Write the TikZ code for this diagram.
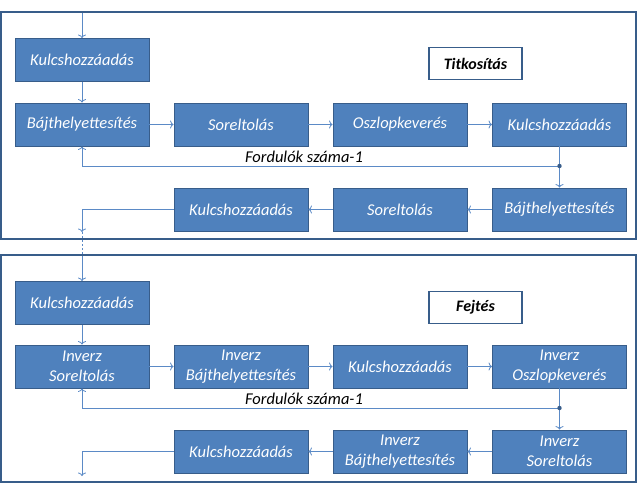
\documentclass[tikz,border=0pt]{standalone}
\usepackage{fontspec}
\setmainfont{Carlito}
\usetikzlibrary{arrows.meta}
\definecolor{boxfill}{HTML}{4F81BD}
\definecolor{boxline}{HTML}{385D8A}
\definecolor{arrowblue}{HTML}{5B8AC6}

\tikzset{
  stage/.style={draw=boxline,fill=boxfill,text=white,line width=0.9pt,
    minimum width=134pt,minimum height=43pt,inner sep=0pt,align=center,
    font=\fontsize{16.5}{20}\selectfont\itshape},
  titlebox/.style={draw=boxline,fill=white,line width=1.2pt,
    minimum width=93pt,minimum height=32pt,inner sep=0pt,
    font=\fontsize{16}{20}\selectfont\bfseries\itshape},
  conn/.style={draw=arrowblue,line width=0.8pt,>={To[length=3.5pt,width=8pt]}},
  frame/.style={draw=boxline,line width=1.5pt}
}

\begin{document}
\begin{tikzpicture}[x=1pt,y=-1pt]
  \useasboundingbox (0,0) rectangle (640,485);

  %% keretek
  \draw[frame] (1,12) rectangle (636,239);
  \draw[frame] (1,255) rectangle (636,482);

  %% titkositas
  \node[titlebox] (tit) at (475.5,63.5) {Titkosítás};
  \node[stage] (k1) at (82,60) {Kulcshozzáadás};
  \node[stage] (b1) at (82,124.5) {Bájthelyettesítés};
  \node[stage] (s1) at (241,124.5) {Soreltolás};
  \node[stage] (o1) at (400,124.5) {Oszlopkeverés};
  \node[stage] (k2) at (559.5,124.5) {Kulcshozzáadás};
  \node[stage] (b2) at (559.5,209.5) {Bájthelyettesítés};
  \node[stage] (s2) at (400,209.5) {Soreltolás};
  \node[stage] (k3) at (241,209.5) {Kulcshozzáadás};

  \coordinate (in1) at (82,13);
  \coordinate (loop1) at (559.5,166);
  \coordinate (out1) at (82,232);

  \draw[conn,->] (in1) -- (k1);
  \draw[conn,->] (k1) -- (b1);
  \draw[conn,->] (b1) -- (s1);
  \draw[conn,->] (s1) -- (o1);
  \draw[conn,->] (o1) -- (k2);
  \draw[conn,->] (k2) -- (b2);
  \draw[conn,->] (loop1) -| (b1);
  \draw[conn,->] (b2) -- (s2);
  \draw[conn,->] (s2) -- (k3);
  \draw[conn,->] (k3) -| (out1);
  \fill[boxline] (loop1) circle (2.2pt);
  \node[font=\fontsize{16.5}{20}\selectfont\itshape,anchor=south,inner sep=1pt]
    (lbl1) at (304,164) {Fordulók száma-1};

  %% fejtes
  \node[titlebox] (fej) at (475.5,307.5) {Fejtés};
  \node[stage] (k4) at (82,303) {Kulcshozzáadás};
  \node[stage] (is1) at (82,366.5) {Inverz\\Soreltolás};
  \node[stage] (ib1) at (241,366.5) {Inverz\\Bájthelyettesítés};
  \node[stage] (k5) at (400,366.5) {Kulcshozzáadás};
  \node[stage] (io) at (559.5,366.5) {Inverz\\Oszlopkeverés};
  \node[stage] (is2) at (559.5,451.5) {Inverz\\Soreltolás};
  \node[stage] (ib2) at (400,451.5) {Inverz\\Bájthelyettesítés};
  \node[stage] (k6) at (241,451.5) {Kulcshozzáadás};

  \coordinate (in2) at (82,256);
  \coordinate (loop2) at (559.5,408);
  \coordinate (out2) at (82,476);

  \draw[conn,dashed,dash pattern=on 2pt off 2pt] (out1) -- (in2);
  \draw[conn,->] (in2) -- (k4);
  \draw[conn,->] (k4) -- (is1);
  \draw[conn,->] (is1) -- (ib1);
  \draw[conn,->] (ib1) -- (k5);
  \draw[conn,->] (k5) -- (io);
  \draw[conn,->] (io) -- (is2);
  \draw[conn,->] (loop2) -| (is1);
  \draw[conn,->] (is2) -- (ib2);
  \draw[conn,->] (ib2) -- (k6);
  \draw[conn,->] (k6) -| (out2);
  \fill[boxline] (loop2) circle (2.2pt);
  \node[font=\fontsize{16.5}{20}\selectfont\itshape,anchor=south,inner sep=1pt]
    (lbl2) at (304,406) {Fordulók száma-1};
\end{tikzpicture}
\end{document}
